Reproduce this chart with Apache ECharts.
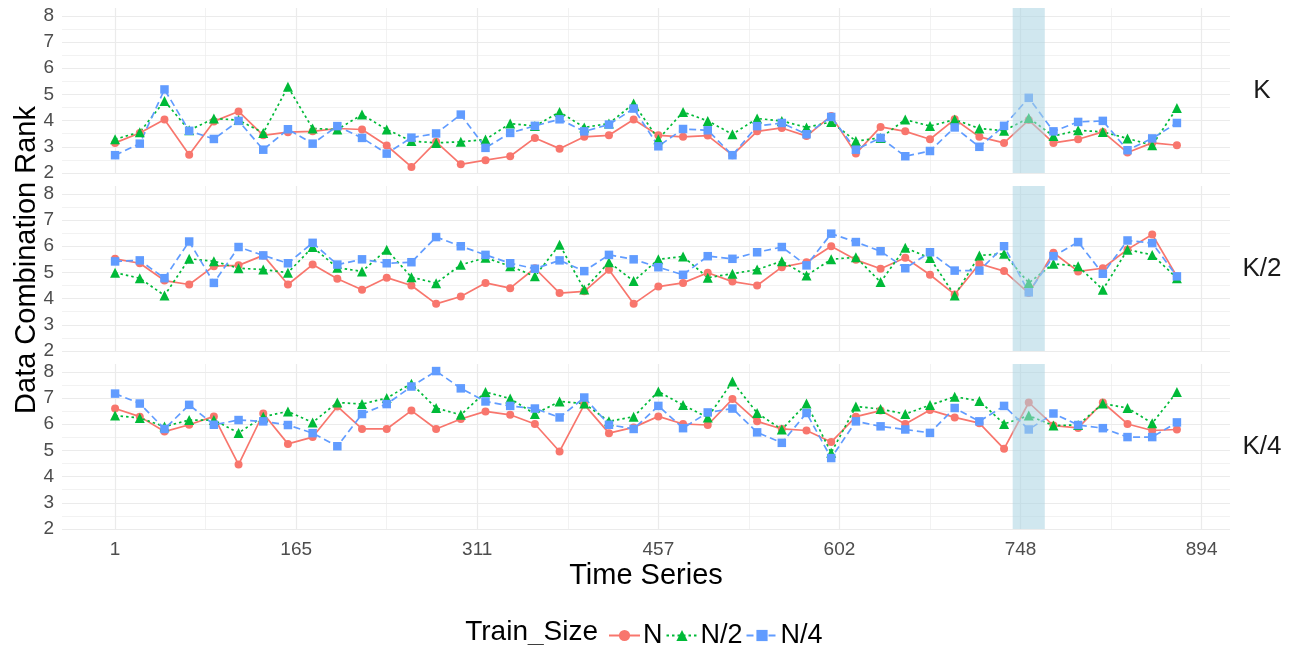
<!DOCTYPE html>
<html>
<head>
<meta charset="utf-8">
<script src="https://cdn.jsdelivr.net/npm/echarts@6/dist/echarts.min.js"></script>
<style>
  html, body { margin: 0; padding: 0; background: #fff; }
  #chart { width: 1294px; height: 645px; }
</style>
</head>
<body>
<div id="chart"></div>
<script>
// facets and series
const panels = ['K', 'K/2', 'K/4'];
const trainSizes = ['N', 'N/2', 'N/4'];

// x axis: points sit at index 1..44, breaks are spread evenly over 1..45
const xTickPos = [1, 8.3333, 15.6667, 23, 30.3333, 37.6667, 45];
const xTickLabels = ['1', '165', '311', '457', '602', '748', '894'];
const xMinorPos = [4.6667, 12, 19.3333, 26.6667, 34, 41.3333];
const yTicks = [2, 3, 4, 5, 6, 7, 8];
const yMinor = [2.5, 3.5, 4.5, 5.5, 6.5, 7.5];
const highlight = [37.35, 38.65];

// panel K
const kN   = [3.15, 3.53, 4.04, 2.70, 3.97, 4.35, 3.44, 3.56, 3.59, 3.70, 3.66, 3.05, 2.23, 3.19, 2.33, 2.49, 2.64, 3.34, 2.93, 3.38, 3.44, 4.04, 3.44, 3.38, 3.43, 2.68, 3.59, 3.72, 3.41, 4.18, 2.74, 3.76, 3.59, 3.29, 4.05, 3.38, 3.15, 4.02, 3.15, 3.29, 3.57, 2.78, 3.15, 3.06];
const kN2  = [3.29, 3.56, 4.75, 3.63, 4.08, 4.02, 3.53, 5.29, 3.70, 3.66, 4.23, 3.66, 3.22, 3.15, 3.19, 3.28, 3.89, 3.79, 4.33, 3.74, 3.89, 4.65, 3.29, 4.33, 3.99, 3.48, 4.08, 3.99, 3.74, 3.95, 3.22, 3.34, 4.04, 3.79, 4.04, 3.70, 3.61, 4.10, 3.41, 3.63, 3.57, 3.32, 3.06, 4.48];
const kN4  = [2.68, 3.12, 5.19, 3.61, 3.30, 3.99, 2.89, 3.67, 3.12, 3.79, 3.34, 2.74, 3.35, 3.51, 4.23, 2.96, 3.53, 3.80, 4.05, 3.59, 3.85, 4.46, 3.02, 3.68, 3.63, 2.68, 3.79, 3.91, 3.48, 4.14, 2.89, 3.34, 2.64, 2.84, 3.74, 3.00, 3.80, 4.87, 3.59, 3.95, 3.99, 2.87, 3.32, 3.91];
// panel K/2
const k2N  = [5.52, 5.35, 4.69, 4.54, 5.24, 5.27, 5.65, 4.54, 5.30, 4.76, 4.34, 4.80, 4.50, 3.80, 4.08, 4.60, 4.40, 5.16, 4.21, 4.28, 5.10, 3.80, 4.46, 4.60, 4.99, 4.65, 4.50, 5.20, 5.39, 6.00, 5.48, 5.14, 5.56, 4.91, 4.16, 5.33, 5.05, 4.21, 5.75, 5.04, 5.16, 5.88, 6.45, 4.85];
const k2N2 = [4.99, 4.78, 4.12, 5.52, 5.43, 5.16, 5.11, 4.99, 5.97, 5.18, 5.04, 5.87, 4.82, 4.59, 5.29, 5.56, 5.24, 4.85, 6.06, 4.35, 5.39, 4.67, 5.50, 5.61, 4.80, 4.95, 5.11, 5.43, 4.88, 5.50, 5.58, 4.63, 5.94, 5.55, 4.12, 5.65, 5.71, 4.60, 5.33, 5.24, 4.34, 5.87, 5.67, 4.78];
const k2N4 = [5.42, 5.46, 4.78, 6.18, 4.60, 5.97, 5.65, 5.35, 6.13, 5.30, 5.50, 5.35, 5.39, 6.35, 6.00, 5.67, 5.35, 5.14, 5.46, 5.05, 5.67, 5.50, 5.20, 4.91, 5.62, 5.52, 5.77, 5.97, 5.27, 6.48, 6.16, 5.81, 5.16, 5.77, 5.07, 5.07, 6.00, 4.24, 5.62, 6.16, 4.95, 6.22, 6.12, 4.85];
// panel K/4
const k4N  = [6.60, 6.29, 5.72, 5.98, 6.30, 4.46, 6.41, 5.25, 5.51, 6.68, 5.82, 5.82, 6.52, 5.82, 6.20, 6.49, 6.36, 6.01, 4.96, 6.75, 5.66, 5.88, 6.30, 6.01, 5.97, 6.96, 6.11, 5.82, 5.76, 5.32, 6.29, 6.52, 6.01, 6.54, 6.26, 6.04, 5.06, 6.83, 5.95, 5.86, 6.83, 6.01, 5.76, 5.80];
const k4N2 = [6.33, 6.24, 5.91, 6.16, 6.16, 5.67, 6.29, 6.49, 6.07, 6.83, 6.77, 7.00, 7.55, 6.62, 6.36, 7.23, 6.98, 6.39, 6.87, 6.79, 6.11, 6.29, 7.25, 6.73, 6.26, 7.63, 6.43, 5.80, 6.79, 4.91, 6.68, 6.58, 6.39, 6.73, 7.05, 6.89, 6.01, 6.33, 5.95, 5.97, 6.79, 6.62, 6.04, 7.23];
const k4N4 = [7.17, 6.79, 5.82, 6.74, 5.98, 6.16, 6.11, 5.97, 5.66, 5.16, 6.39, 6.77, 7.44, 8.03, 7.37, 6.87, 6.70, 6.60, 6.26, 7.02, 5.98, 5.82, 6.70, 5.85, 6.45, 6.60, 5.69, 5.29, 6.43, 4.71, 6.11, 5.92, 5.80, 5.67, 6.62, 6.11, 6.70, 5.80, 6.41, 5.97, 5.85, 5.51, 5.51, 6.07];

const panelData = [[kN, kN2, kN4], [k2N, k2N2, k2N4], [k4N, k4N2, k4N4]];

const colors = ['#F8766D', '#00BA38', '#619CFF'];
const lineTypes = ['solid', [2.5, 3], [7, 4]];
const symbols = ['circle', 'triangle', 'rect'];
const symbolSizes = [8, 10, 8.5];
const font = 'Liberation Sans, Arial, sans-serif';

const gridTops = [8, 186, 364];
const gridH = 165;
const gridLeft = 62, gridRight = 64;
const xMin = -1.15, xMax = 46.15;

const chart = echarts.init(document.getElementById('chart'));

const grid = [], xAxis = [], yAxis = [], series = [];

gridTops.forEach((top, g) => {
  grid.push({ left: gridLeft, right: gridRight, top: top, height: gridH });
});

// major axes
gridTops.forEach((top, g) => {
  xAxis.push({
    gridIndex: g, type: 'value', min: xMin, max: xMax,
    axisLine: { show: false }, axisTick: { show: false, customValues: xTickPos },
    axisLabel: {
      show: g === 2, customValues: xTickPos, margin: 11,
      fontSize: 19, color: '#4d4d4d', fontFamily: font,
      formatter: function (v) {
        const i = xTickPos.findIndex(p => Math.abs(p - v) < 0.01);
        return i >= 0 ? xTickLabels[i] : '';
      }
    },
    splitLine: { show: true, lineStyle: { color: '#ebebeb', width: 1.2 } }
  });
  yAxis.push({
    gridIndex: g, type: 'value', min: 2, max: 8.3,
    axisLine: { show: false }, axisTick: { show: false, customValues: yTicks },
    axisLabel: { customValues: yTicks, margin: 8, fontSize: 19, color: '#4d4d4d', fontFamily: font },
    splitLine: { show: true, lineStyle: { color: '#ebebeb', width: 1.2 } }
  });
});
// minor grid lines
gridTops.forEach((top, g) => {
  xAxis.push({
    gridIndex: g, type: 'value', min: xMin, max: xMax, position: 'top',
    axisLine: { show: false }, axisTick: { show: false, customValues: xMinorPos },
    axisLabel: { show: false },
    splitLine: { show: true, lineStyle: { color: '#ededed', width: 0.7 } }
  });
  yAxis.push({
    gridIndex: g, type: 'value', min: 2, max: 8.3, position: 'right',
    axisLine: { show: false }, axisTick: { show: false, customValues: yMinor },
    axisLabel: { show: false },
    splitLine: { show: true, lineStyle: { color: '#ededed', width: 0.7 } }
  });
});

panelData.forEach((rows, g) => {
  rows.forEach((vals, s) => {
    series.push({
      name: trainSizes[s], type: 'line', xAxisIndex: g, yAxisIndex: g,
      data: vals.map((v, i) => [i + 1, v]),
      symbol: symbols[s], symbolSize: symbolSizes[s], showAllSymbol: true,
      itemStyle: { color: colors[s] },
      lineStyle: { color: colors[s], width: 1.7, type: lineTypes[s] },
      emphasis: { disabled: true }, animation: false
    });
  });
  // highlighted time window, drawn over the points
  series.push({
    name: 'window', type: 'line', xAxisIndex: g, yAxisIndex: g, data: [],
    z: 10, silent: true, animation: false,
    markArea: {
      silent: true, z: 10,
      itemStyle: { color: 'rgba(170,212,226,0.55)' },
      data: [[{ xAxis: highlight[0] }, { xAxis: highlight[1] }]]
    }
  });
});

const graphic = [
  { type: 'text', x: 27, y: 260, rotation: Math.PI / 2,
    style: { text: 'Data Combination Rank', font: '29px ' + font, fill: '#000', align: 'center', verticalAlign: 'middle' } },
  { type: 'text', x: 646, y: 576,
    style: { text: 'Time Series', font: '29px ' + font, fill: '#000', align: 'center', verticalAlign: 'middle' } },
  { type: 'text', x: 598, y: 632,
    style: { text: 'Train_Size', font: '28px ' + font, fill: '#000', align: 'right', verticalAlign: 'middle' } }
];
panels.forEach((p, g) => {
  graphic.push({ type: 'text', x: 1262, y: gridTops[g] + gridH / 2,
    style: { text: p, font: '26px ' + font, fill: '#1a1a1a', align: 'center', verticalAlign: 'middle' } });
});

chart.setOption({
  animation: false,
  grid: grid,
  xAxis: xAxis,
  yAxis: yAxis,
  legend: {
    data: trainSizes, left: 603, top: 617,
    itemWidth: 31, itemHeight: 14, itemGap: 3,
    textStyle: { fontSize: 27, color: '#000', fontFamily: font, padding: [0, 0, 0, -2] }
  },
  graphic: graphic,
  series: series
});
</script>
</body>
</html>
